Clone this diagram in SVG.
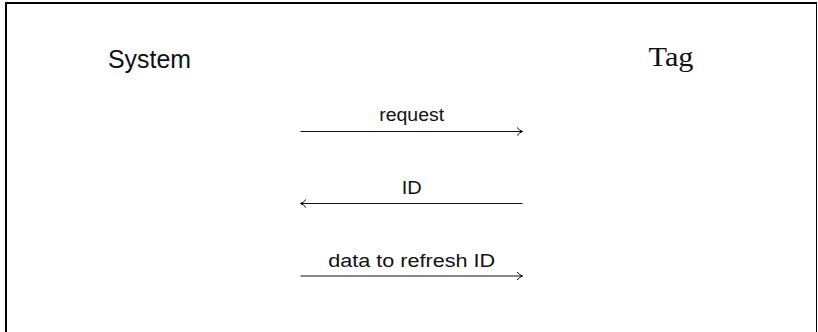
<svg xmlns="http://www.w3.org/2000/svg" width="818" height="332" viewBox="0 0 818 332">
  <defs>
    <!-- open "to"-style arrowhead -->
    <marker id="to" viewBox="0 0 10 10" refX="9" refY="5" markerWidth="10" markerHeight="10" markerUnits="userSpaceOnUse" orient="auto-start-reverse">
      <path d="M3.5,1 Q6,4 9,5 Q6,6 3.5,9" fill="none" stroke="#000" stroke-width="1"/>
    </marker>
  </defs>
  <style>
    .frame { stroke: #000; fill: none; }
    .msg { stroke: #111; stroke-width: 1; fill: none; }
    .sans { font-family: "Liberation Sans", Arial, sans-serif; fill: #111; }
    .serif { font-family: "Liberation Serif", "Times New Roman", serif; fill: #111; }
    .label { font-size: 18px; text-anchor: middle; }
  </style>

  <rect width="818" height="332" fill="#fff"/>

  <!-- frame -->
  <g id="frame">
    <line class="frame" x1="6" y1="2" x2="6" y2="332" stroke-width="2"/>
    <line class="frame" x1="5" y1="3" x2="817" y2="3" stroke-width="2"/>
    <line class="frame" x1="816.5" y1="2" x2="816.5" y2="332" stroke-width="1"/>
  </g>

  <!-- participants -->
  <g id="system">
    <text class="sans" x="108" y="67.5" font-size="26" textLength="83" lengthAdjust="spacingAndGlyphs">System</text>
  </g>
  <g id="tag">
    <text class="serif" x="648.5" y="66" font-size="27" textLength="45" lengthAdjust="spacingAndGlyphs">Tag</text>
  </g>

  <!-- messages -->
  <g id="connectors">
    <line class="msg" x1="300.5" y1="131.5" x2="522.5" y2="131.5" marker-end="url(#to)"/>
    <line class="msg" x1="300.5" y1="203.5" x2="522.5" y2="203.5" marker-start="url(#to)"/>
    <line class="msg" x1="300.5" y1="276" x2="522.5" y2="276" marker-end="url(#to)"/>
  </g>

  <g id="labels">
    <text class="sans label" x="411.7" y="121" textLength="65" lengthAdjust="spacingAndGlyphs">request</text>
    <text class="sans label" x="411.7" y="194" textLength="20" lengthAdjust="spacingAndGlyphs">ID</text>
    <text class="sans label" x="411.7" y="266.5" textLength="167" lengthAdjust="spacingAndGlyphs">data to refresh ID</text>
  </g>
</svg>
